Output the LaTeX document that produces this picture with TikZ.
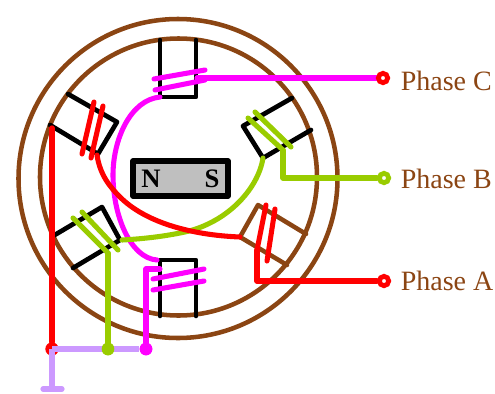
\documentclass[tikz,border=0pt]{standalone}
\usepackage{fontspec}
\setmainfont{Liberation Serif}
\definecolor{brownc}{HTML}{8B4513}
\definecolor{greenc}{HTML}{99CC00}
\definecolor{magc}{HTML}{FF00FF}
\definecolor{purpc}{HTML}{CC99FF}
\begin{document}
\begin{tikzpicture}[x=0.75pt,y=-0.75pt,
  ringline/.style={draw=brownc,line width=3.4pt},
  polek/.style={draw=black,line width=3.5pt,line cap=round,line join=round},
  poleb/.style={draw=brownc,line width=3.4pt,line cap=round,line join=round},
  coil/.style={line width=3.8pt,line cap=round},
  wire/.style={line width=3.8pt,line join=round,line cap=round},
  term/.style={circle,line width=3.6pt,fill=white,inner sep=0pt,minimum size=7pt},
  dotc/.style={circle,inner sep=0pt,minimum size=9.5pt},
  lab/.style={text=brownc,font=\fontsize{21}{24}\selectfont,anchor=base west,inner sep=0pt},
  pol/.style={font=\fontsize{20}{24}\selectfont\bfseries,text=black,inner sep=0pt,anchor=base}]
\useasboundingbox (0,0) rectangle (495,393);
% stator
\draw[ringline] (178,178.5) circle[radius=159.5];
\draw[ringline] (178.5,177) circle[radius=138.5];
% poles
\draw[polek] (160,40) -- (160,97) -- (196,97) -- (196,40);
\draw[polek] (68,94) -- (117,122) -- (98,154) -- (50,125);
\draw[polek] (292,98) -- (243,126) -- (263,158) -- (311,130);
\draw[polek] (53,236) -- (102,207) -- (120,240) -- (73,268);
\draw[polek] (160,316) -- (160,260) -- (196,260) -- (196,316);
\draw[poleb] (306,234) -- (258,205) -- (240,237) -- (287,265);
% magnet
\node[draw=black,line width=4pt,fill=black!25,line join=round,minimum width=71.25pt,minimum height=26.25pt,inner sep=0pt] (magnet) at (180.5,178.5) {};
\node[pol] (nn) at (151,187.5) {N};
\node[pol] (ss) at (212,187.5) {S};
% named wire ends
\coordinate (cTop) at (160,97);
\coordinate (cBot) at (157,260);
\coordinate (gA) at (263,158);
\coordinate (gB) at (122,240);
\coordinate (rA) at (97,155);
\coordinate (rB) at (240,237);
\node[dotc,fill=magc] (dm) at (146,349) {};
\node[dotc,fill=greenc] (dg) at (108,349) {};
% magenta
\draw[wire,magc] (cTop) .. controls (130,100) and (113,140) .. (113,175) .. controls (113,215) and (130,258) .. (cBot);
\draw[coil,magc] (154,79) -- (205,70);
\draw[coil,magc] (155,90) -- (205,80);
\draw[coil,magc] (153,279) -- (204,269);
\draw[coil,magc] (153,290) -- (204,281);
\draw[wire,magc] (dm) -- (146,269) -- (160,269);
% green
\draw[wire,greenc] (gA) .. controls (258,190) and (225,225) .. (180,233) .. controls (160,237) and (140,239) .. (gB);
\draw[coil,greenc] (255,112) -- (291,147);
\draw[coil,greenc] (248,118) -- (283,150);
\draw[coil,greenc] (82,212) -- (118,250);
\draw[coil,greenc] (73,218) -- (108,253);
\draw[wire,greenc] (108,253) -- (dg);
\node[term,draw=greenc] (pb) at (384,178) {};
\draw[wire,greenc] (283,150) -- (283,178) -- (pb);
% red
\draw[wire,red] (rA) .. controls (100,175) and (110,187) .. (120,197) .. controls (145,222) and (190,235) .. (rB);
\draw[coil,red] (94,102) -- (82,154);
\draw[coil,red] (103,106) -- (91,158);
\draw[coil,red] (266,205) -- (257,250);
\draw[coil,red] (275,209) -- (267,261);
\node[term,draw=red] (pa) at (384,281) {};
\draw[wire,red] (257,250) -- (257,281) -- (pa);
\draw[wire,magc] (197,78) -- (383,78);
\node[term,draw=red] (pc) at (383,78) {};
\node[circle,fill=red,inner sep=0pt,minimum size=10pt] (jr) at (52,349) {};
\draw[line width=4pt,line cap=round,red] (52,128) -- (jr);
% neutral
\draw[line width=3.9pt,purpc] (jr.center) -- (dm);
\draw[line width=3.9pt,purpc] (jr.center) -- (52,389);
\draw[line width=3.9pt,purpc,line cap=round] (43,389) -- (62,389);
\node[dotc,fill=magc] at (dm) {};
\node[dotc,fill=greenc] at (dg) {};
% labels
\node[lab] (lc) at (400.5,90.5) {Phase C};
\node[lab] (lb) at (400.5,188) {Phase B};
\node[lab] (la) at (400.5,290) {Phase A};
\end{tikzpicture}
\end{document}
